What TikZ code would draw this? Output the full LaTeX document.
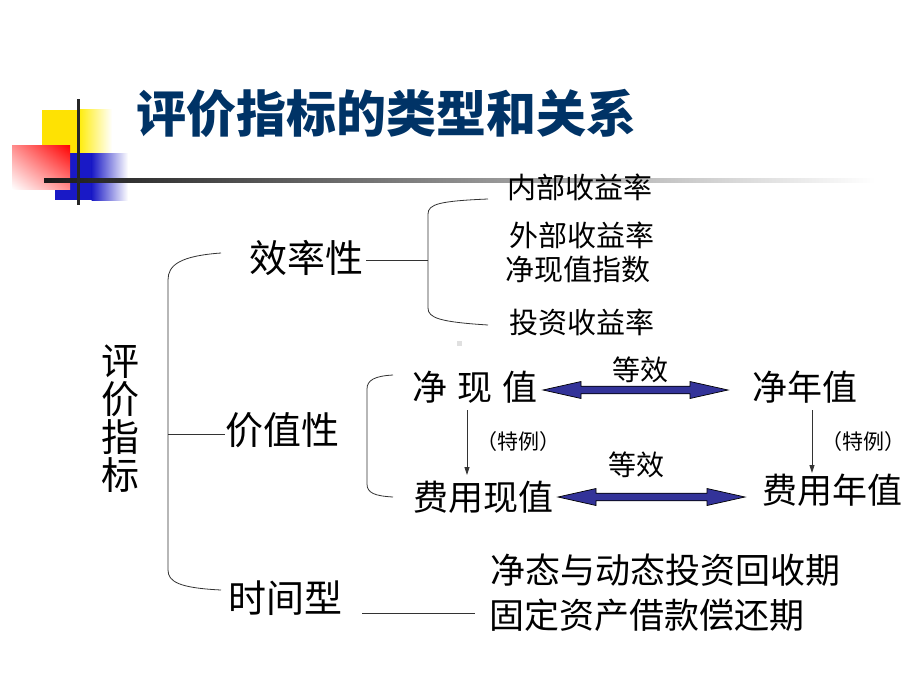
\documentclass[tikz,border=0pt]{standalone}
\usepackage{fontspec}
\setmainfont{Noto Sans CJK SC}
\newfontfamily\cjk{Noto Sans CJK SC}
\usetikzlibrary{arrows.meta,shadings}
\definecolor{titleblue}{RGB}{0,51,102}
\definecolor{arrowblue}{RGB}{51,51,153}
\begin{document}
\begin{tikzpicture}[x=1pt,y=-1pt,
  txt/.style={inner sep=0pt, font=\cjk\fontsize{#1}{#1}\selectfont},
  txt/.default=35,
  brk/.style={draw=black!80, line width=0.8pt},
  thin/.style={draw=black!80, line width=0.8pt, -{Triangle[length=8pt,width=5pt]}},
  dbl/.style={fill=arrowblue, draw=black, line width=0.7pt}
]
\useasboundingbox (0,0) rectangle (920,690);
\fill[white] (0,0) rectangle (920,690);

% logo
\fill[yellow!85!orange] (42,110) rectangle (78,153);
\shade[left color=yellow!85!orange, right color=white] (77.5,110) rectangle (112,153);
\fill[blue!75!black!90] (55,153) rectangle (92,200);
\shade[left color=blue!75!black!90, right color=white] (91.5,153) rectangle (128,200);
\shade[upper right=red, lower left=white, upper left=red!45, lower right=red!45] (12,145) rectangle (70,189);
\shade[left color=black!90, right color=white] (44,178) rectangle (875,182);
\fill[black!85] (76.5,99) rectangle (79.5,205);

% title
\node[inner sep=0pt, text=titleblue, font=\cjk\bfseries\fontsize{50}{50}\selectfont] (title) at (386,113) {评价指标的类型和关系};

% left label
\node[txt=38, align=center] (root) at (120,419) {\fontsize{38}{42}\selectfont 评\\价\\指\\标};

% categories
\node[txt=38] (eff) at (306,258) {效率性};
\node[txt=38] (val) at (282,430) {价值性};
\node[txt=38] (time) at (285,598) {时间型};

% efficiency items
\node[txt=29] (e1) at (580,187) {内部收益率};
\node[txt=29] (e2) at (582,235) {外部收益率};
\node[txt=29] (e3) at (578,270) {净现值指数};
\node[txt=29] (e4) at (582,322) {投资收益率};

% value items
\node[txt=35] (npv) at (475,387) {净\hspace{10pt}现\hspace{10pt}值};
\node[txt=35] (naw) at (805,387) {净年值};
\node[txt=35] (pc) at (483,497) {费用现值};
\node[txt=35] (ac) at (832,490) {费用年值};
\node[txt=28] (eq1) at (640,370) {等效};
\node[txt=28] (eq2) at (636,465) {等效};
\node[txt=21] (sp1) at (518,442) {（特例）};
\node[txt=21] (sp2) at (863,442) {（特例）};

% time items
\node[txt=35] (t1) at (665,570) {净态与动态投资回收期};
\node[txt=35] (t2) at (647,615) {固定资产借款偿还期};

% main bracket
\draw[brk] (221,253) .. controls (180,256) and (168,265) .. (168,280)
  -- (168,570) .. controls (168,582) and (180,588) .. (221,590);
\coordinate (mtick) at (168,434);
\draw[brk] (mtick) -- (mtick -| val.west);

% efficiency bracket
\draw[brk] (488,199) .. controls (440,201) and (428,204) .. (428,214)
  -- (428,308) .. controls (428,318) and (440,322) .. (488,325);
\coordinate (etick) at (428,260);
\draw[brk] (etick) -- ([xshift=3pt]etick -| eff.east);

% value bracket
\draw[brk] (393,375) .. controls (375,376) and (367,380) .. (367,389)
  -- (367,484) .. controls (367,493) and (375,496) .. (393,497);

% time line
\coordinate (ta) at (362,613);
\coordinate (tb) at (475,613);
\draw[brk] (ta) -- (tb);

% special-case arrows
\draw[thin] (467,410) -- (467,475);
\draw[thin] (812,410) -- (812,473);

% double arrows
\newcommand{\dblarrow}[3]{%
  \path[dbl] (#1,#3) -- (#1+38,#3-8.5) -- (#1+38,#3-3.8) -- (#2-38,#3-3.8) -- (#2-38,#3-8.5)
   -- (#2,#3) -- (#2-38,#3+8.5) -- (#2-38,#3+3.8) -- (#1+38,#3+3.8) -- (#1+38,#3+8.5) -- cycle;}
\dblarrow{543}{728}{390}
\dblarrow{558}{745}{497}

% small mark
\fill[black!12] (457,341) rectangle (462,346);
\end{tikzpicture}
\end{document}
